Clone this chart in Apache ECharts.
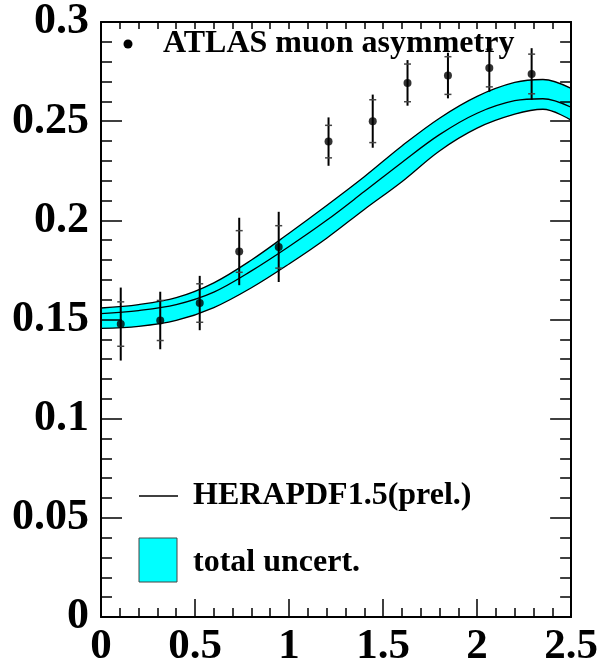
<!DOCTYPE html>
<html>
<head>
<meta charset="utf-8">
<script src="https://cdn.jsdelivr.net/npm/echarts@6/dist/echarts.min.js"></script>
<style>
  html, body { margin: 0; padding: 0; background: #fff; }
  #chart { width: 601px; height: 668px; }
</style>
</head>
<body>
<div id="chart"></div>
<script>
// Muon charge asymmetry vs |eta|: ATLAS data points with stat/total errors
const etaCentres = [0.105, 0.315, 0.525, 0.735, 0.945, 1.21, 1.445, 1.63, 1.845, 2.065, 2.29];
const asymValues = [0.1477, 0.1495, 0.1583, 0.1843, 0.1866, 0.2397, 0.2500, 0.2693, 0.2730, 0.2768, 0.2738];
const statErrors = [0.0112, 0.0101, 0.0097, 0.0105, 0.0107, 0.0082, 0.0108, 0.0095, 0.0095, 0.0095, 0.0100];
const totalErrors = [0.0184, 0.0145, 0.0137, 0.0170, 0.0177, 0.0122, 0.0134, 0.0115, 0.0115, 0.0120, 0.0130];

// HERAPDF1.5 (prel.) prediction: central curve and uncertainty band edges
const predEta   = [0.0, 0.2, 0.4, 0.6, 0.8, 1.0, 1.2, 1.4, 1.6, 1.8, 2.0, 2.2, 2.35, 2.5];
const predUpper = [0.1558, 0.1575, 0.1610, 0.1685, 0.1800, 0.1935, 0.2075, 0.2220, 0.2375, 0.2515, 0.2625, 0.2695, 0.2710, 0.2665];
const predCentral = [0.1530, 0.1545, 0.1575, 0.1638, 0.1745, 0.1868, 0.2000, 0.2145, 0.2292, 0.2432, 0.2540, 0.2603, 0.2613, 0.2570];
const predLower = [0.1455, 0.1465, 0.1495, 0.1560, 0.1660, 0.1780, 0.1910, 0.2055, 0.2195, 0.2350, 0.2465, 0.2535, 0.2560, 0.2505];

// axis tick labels
const xTickLabels = ['0', '0.5', '1', '1.5', '2', '2.5'];
const yTickLabels = ['0', '0.05', '0.1', '0.15', '0.2', '0.25', '0.3'];

const FONT = '"Liberation Serif", "DejaVu Serif", serif';
const chart = echarts.init(document.getElementById('chart'), null, { renderer: 'canvas' });

function pairs(xs, ys) { return xs.map((x, i) => [x, ys[i]]); }

const frameLine = { show: true, onZero: false, lineStyle: { color: '#000', width: 2 } };
const noLine = { show: false, onZero: false };
const tickStyle = { color: '#000', width: 1.5 };
function fmtX(v) {
  const i = Math.round(v / 0.5);
  return Math.abs(v - i * 0.5) < 1e-6 ? xTickLabels[i] : '';
}
function fmtY(v) {
  const i = Math.round(v / 0.05);
  return Math.abs(v - i * 0.05) < 1e-6 ? yTickLabels[i] : '';
}
const SMOOTH = 0.35;

// builds one axis; the minor-tick axes only carry short inward ticks
function xAxisDef(position, interval, tickLen, withLine, withLabels) {
  return {
    type: 'value', position: position, min: 0, max: 2.5, interval: interval, z: 10,
    axisLine: withLine ? frameLine : noLine,
    axisTick: { show: true, inside: true, length: tickLen, lineStyle: tickStyle },
    splitLine: { show: false },
    axisLabel: withLabels
      ? { show: true, margin: 8, formatter: fmtX, color: '#000', fontFamily: FONT, fontWeight: 'bold', fontSize: 43 }
      : { show: false }
  };
}
function yAxisDef(position, interval, tickLen, withLine, withLabels) {
  return {
    type: 'value', position: position, min: 0, max: 0.3, interval: interval, z: 10,
    axisLine: withLine ? frameLine : noLine,
    axisTick: { show: true, inside: true, length: tickLen, lineStyle: tickStyle },
    splitLine: { show: false },
    axisLabel: withLabels
      ? { show: true, margin: 12, padding: [6, 0, 0, 0], formatter: fmtY, color: '#000', fontFamily: FONT, fontWeight: 'bold', fontSize: 44 }
      : { show: false }
  };
}

const option = {
  animation: false,
  backgroundColor: '#fff',
  grid: { left: 101, right: 27, top: 22, bottom: 45, containLabel: false },
  xAxis: [
    xAxisDef('bottom', 0.5, 18, true, true),
    xAxisDef('bottom', 0.1, 9, false, false),
    xAxisDef('top', 0.1, 7, true, false)
  ],
  yAxis: [
    yAxisDef('left', 0.05, 21, true, true),
    yAxisDef('left', 0.01, 11, false, false),
    yAxisDef('right', 0.05, 21, true, false),
    yAxisDef('right', 0.01, 11, false, false)
  ],
  series: [
    {
      // upper edge of the band, filled cyan down to the x axis
      name: 'bandUpper', type: 'line', smooth: SMOOTH, symbol: 'none', z: 2,
      data: pairs(predEta, predUpper),
      lineStyle: { color: '#000', width: 1.3 },
      areaStyle: { color: '#00ffff', opacity: 1, origin: 'start' }
    },
    {
      // lower edge of the band, white fill below it leaves only the band cyan
      name: 'bandLower', type: 'line', smooth: SMOOTH, symbol: 'none', z: 2,
      data: pairs(predEta, predLower),
      lineStyle: { color: '#000', width: 1.3 },
      areaStyle: { color: '#ffffff', opacity: 1, origin: 'start' }
    },
    {
      name: 'HERAPDF1.5(prel.)', type: 'line', smooth: SMOOTH, symbol: 'none', z: 3,
      data: pairs(predEta, predCentral),
      lineStyle: { color: '#000', width: 1.3 }
    },
    {
      name: 'errors', type: 'custom', z: 4,
      data: etaCentres.map((x, i) => [x, asymValues[i], statErrors[i], totalErrors[i]]),
      renderItem: function (params, api) {
        const x = api.value(0), y = api.value(1), s = api.value(2), t = api.value(3);
        const top = api.coord([x, y + t]);
        const bot = api.coord([x, y - t]);
        const sTop = api.coord([x, y + s]);
        const sBot = api.coord([x, y - s]);
        const cap = 3.5;
        return {
          type: 'group',
          children: [
            { type: 'line', shape: { x1: top[0], y1: top[1], x2: bot[0], y2: bot[1] }, style: { stroke: '#000', lineWidth: 2 } },
            { type: 'line', shape: { x1: sTop[0] - cap, y1: sTop[1], x2: sTop[0] + cap, y2: sTop[1] }, style: { stroke: '#444', lineWidth: 1.5 } },
            { type: 'line', shape: { x1: sBot[0] - cap, y1: sBot[1], x2: sBot[0] + cap, y2: sBot[1] }, style: { stroke: '#444', lineWidth: 1.5 } }
          ]
        };
      }
    },
    {
      name: 'ATLAS muon asymmetry', type: 'scatter', z: 5,
      data: pairs(etaCentres, asymValues),
      symbol: 'circle', symbolSize: 8,
      itemStyle: { color: '#000' }
    }
  ],
  graphic: [
    { type: 'circle', shape: { cx: 128, cy: 44, r: 4.5 }, style: { fill: '#000' }, z: 20 },
    { type: 'text', x: 163, y: 44, style: { text: 'ATLAS muon asymmetry', fill: '#000', font: 'bold 32px ' + FONT, verticalAlign: 'middle' }, z: 20 },
    { type: 'line', shape: { x1: 139, y1: 496, x2: 178, y2: 496 }, style: { stroke: '#000', lineWidth: 1.3 }, z: 20 },
    { type: 'text', x: 193, y: 496, style: { text: 'HERAPDF1.5(prel.)', fill: '#000', font: 'bold 32px ' + FONT, verticalAlign: 'middle' }, z: 20 },
    { type: 'rect', shape: { x: 139, y: 538, width: 38, height: 44 }, style: { fill: '#00ffff', stroke: '#444', lineWidth: 1 }, z: 20 },
    { type: 'text', x: 193, y: 563, style: { text: 'total uncert.', fill: '#000', font: 'bold 32px ' + FONT, verticalAlign: 'middle' }, z: 20 }
  ]
};
chart.setOption(option);
</script>
</body>
</html>
